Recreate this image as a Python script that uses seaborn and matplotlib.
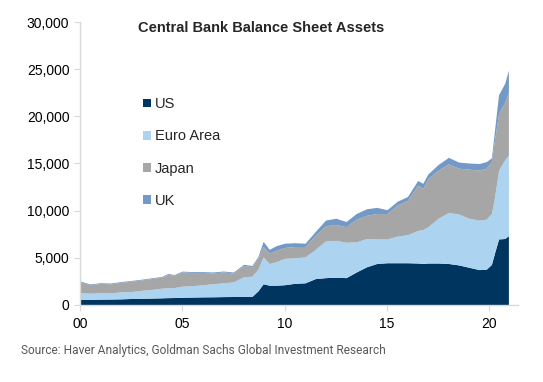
import matplotlib.pyplot as plt
import seaborn as sns
import numpy as np

# -----------------------------
# Data (USD bn, read off the chart as cumulative layer tops)
# -----------------------------
years = [2000.0, 2000.5, 2001.0, 2001.5, 2002.0, 2002.5, 2003.0, 2003.5, 2004.0, 2004.3,
         2004.6, 2005.0, 2005.5, 2006.0, 2006.5, 2007.0, 2007.5, 2008.0, 2008.4, 2008.7,
         2008.95, 2009.25, 2009.6, 2010.0, 2010.5, 2011.0, 2011.5, 2012.0, 2012.5, 2013.0,
         2013.5, 2014.0, 2014.5, 2015.0, 2015.5, 2016.0, 2016.5, 2016.75, 2017.0, 2017.5,
         2018.0, 2018.5, 2019.0, 2019.5, 2019.85, 2020.1, 2020.25, 2020.45, 2020.75, 2020.93]

top_us = [600, 600, 620, 630, 650, 690, 710, 730, 760, 780,
          790, 820, 840, 860, 870, 890, 900, 920, 900, 1500,
          2250, 2100, 2100, 2150, 2300, 2350, 2800, 2900, 2950, 2900,
          3500, 4050, 4400, 4480, 4480, 4480, 4450, 4400, 4450, 4450,
          4400, 4250, 4000, 3750, 3800, 4300, 5500, 7000, 7050, 7350]
top_euro = [1310, 1250, 1300, 1280, 1400, 1420, 1550, 1650, 1780, 1830,
            1850, 2000, 2050, 2150, 2250, 2350, 2450, 3000, 3050, 3800,
            5100, 4400, 4600, 4950, 5000, 5100, 5900, 6800, 6850, 6650,
            6700, 7050, 7000, 7000, 7300, 7450, 7900, 8000, 8300, 9200,
            9800, 9650, 9200, 9000, 9100, 9700, 11400, 14300, 15400, 15900]
top_japan = [2470, 2150, 2280, 2250, 2400, 2520, 2650, 2800, 2950, 3250,
             3150, 3500, 3450, 3450, 3400, 3500, 3400, 4200, 4050, 5000,
             6200, 5500, 5800, 6100, 6200, 6200, 7400, 8400, 8550, 8300,
             9100, 9500, 9700, 9700, 10600, 11100, 12700, 12350, 13400, 14300,
             14950, 14500, 14400, 14300, 14500, 15200, 17500, 20300, 21500, 22500]
top_uk = [2550, 2230, 2360, 2330, 2480, 2600, 2730, 2880, 3030, 3340,
          3230, 3590, 3540, 3540, 3500, 3600, 3500, 4320, 4180, 5150,
          6750, 5900, 6300, 6550, 6600, 6550, 7800, 9000, 9200, 8850,
          9700, 10200, 10350, 10100, 11000, 11500, 13200, 12900, 13900, 14900,
          15650, 15150, 15050, 15000, 15200, 15600, 18500, 22300, 23500, 24900]

us = np.array(top_us)
euro = np.array(top_euro) - np.array(top_us)
japan = np.array(top_japan) - np.array(top_euro)
uk = np.array(top_uk) - np.array(top_japan)

labels = ["US", "Euro Area", "Japan", "UK"]
colors = ["#00355f", "#acd3f0", "#a6a6a6", "#7399c6"]

# -----------------------------
# Plot
# -----------------------------
sns.set_style("white")
plt.rcParams["font.family"] = ["Liberation Sans", "DejaVu Sans"]

fig = plt.figure(figsize=(5.43, 3.82), dpi=100)
ax = fig.add_axes([0.147, 0.2016, 0.807, 0.7408])

ax.stackplot(years, us, euro, japan, uk, colors=colors, labels=labels, linewidth=0)

ax.set_xlim(2000, 2021.4)
ax.set_ylim(0, 30000)
ax.set_xticks([2000, 2005, 2010, 2015, 2020])
ax.set_xticklabels(["00", "05", "10", "15", "20"])
ax.set_yticks(range(0, 30001, 5000))
ax.set_yticklabels([f"{v:,}" for v in range(0, 30001, 5000)])
ax.tick_params(axis="both", labelsize=10, colors="#d9d9d9", labelcolor="black",
               length=4, width=0.8, direction="out", bottom=True, left=True)
ax.tick_params(axis="x", pad=5)

for side in ["top", "right"]:
    ax.spines[side].set_visible(False)
for side in ["left", "bottom"]:
    ax.spines[side].set_color("#d9d9d9")
    ax.spines[side].set_linewidth(1)

ax.text(0.413, 1.005, "Central Bank Balance Sheet Assets", transform=ax.transAxes,
        ha="center", va="top", fontsize=10.5, fontweight="bold")

ax.legend(loc="upper left", bbox_to_anchor=(0.13, 0.755), frameon=False, fontsize=10.5,
          handlelength=0.55, handleheight=0.55, handletextpad=0.3, labelspacing=1.25,
          borderaxespad=0)

fig.text(0.039, 0.072, "Source: Haver Analytics, Goldman Sachs Global Investment Research",
         fontsize=8.6, color="#595959", family=["Roboto", "DejaVu Sans"])

plt.savefig("out.png", dpi=100)
